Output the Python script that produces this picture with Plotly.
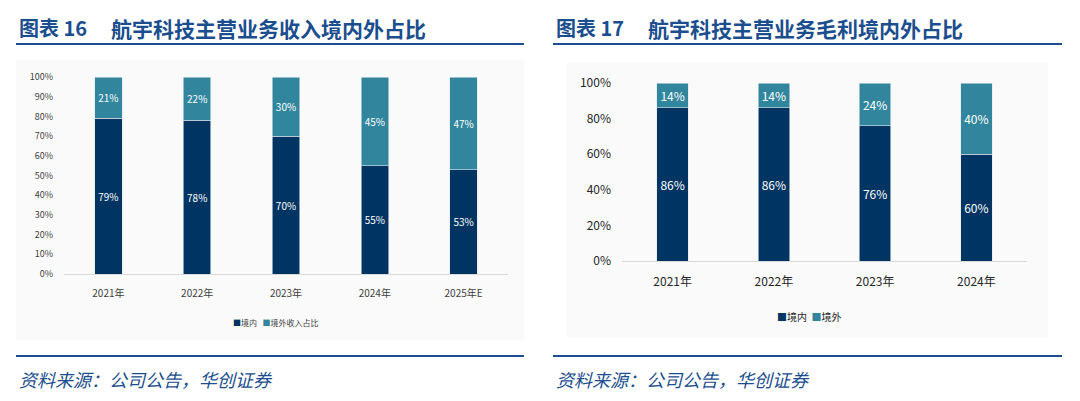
import plotly.graph_objects as go

W, H = 1080, 401

# Left chart data
years_l = ["2021年", "2022年", "2023年", "2024年", "2025年E"]
dom_rev = [79, 78, 70, 55, 53]
for_rev = [21, 22, 30, 45, 47]

# Right chart data
years_r = ["2021年", "2022年", "2023年", "2024年"]
dom_gp = [86, 86, 76, 60]
for_gp = [14, 14, 24, 40]

ticks_l = [0, 10, 20, 30, 40, 50, 60, 70, 80, 90, 100]
ticks_r = [0, 20, 40, 60, 80, 100]

NAVY = "#003462"
TEAL = "#31869D"
TITLE = "#1B4E8E"
FONT = "Noto Sans CJK SC"

def px(x):
    return x / W

def py(y):
    return 1 - y / H

fig = go.Figure()

def bar(xs, ys, name, color, size, xa, ya):
    return go.Bar(x=xs, y=ys, name=name, marker=dict(color=color, line=dict(color="#DDE6EE", width=0.6)),
                  text=[f"{v}%" for v in ys], textposition="inside", insidetextanchor="middle",
                  textfont=dict(color="white", size=size, family=FONT), xaxis=xa, yaxis=ya,
                  showlegend=False)

fig.add_trace(bar(years_l, dom_rev, "境内", NAVY, 10, "x", "y"))
fig.add_trace(bar(years_l, for_rev, "境外收入占比", TEAL, 10, "x", "y"))
fig.add_trace(bar(years_r, dom_gp, "境内", NAVY, 12, "x2", "y2"))
fig.add_trace(bar(years_r, for_gp, "境外", TEAL, 12, "x2", "y2"))

fig.update_layout(
    width=W, height=H, margin=dict(l=0, r=0, t=0, b=0, autoexpand=False),
    paper_bgcolor="white", plot_bgcolor="rgba(0,0,0,0)",
    barmode="stack", bargap=0.69,
    font=dict(family=FONT, color="#404040"),
    uniformtext=dict(mode="show", minsize=8),
    showlegend=False,
    xaxis=dict(domain=[px(64), px(508)], anchor="y", showgrid=False, showline=True, linecolor="#D9D9D9", linewidth=1,
               ticks="", tickfont=dict(size=10, color="#404040", family=FONT), automargin=False,
               ticklabelstandoff=10),
    yaxis=dict(domain=[py(274), py(77)], anchor="x", range=[0, 100], tickvals=ticks_l,
               ticktext=[f"{t}%" for t in ticks_l], showgrid=False, zeroline=False, showline=False,
               tickfont=dict(size=9, color="#404040", family=FONT), ticklabelstandoff=10, automargin=False),
    xaxis2=dict(domain=[px(622), px(1027)], anchor="y2", showgrid=False, showline=True, linecolor="#D9D9D9", linewidth=1,
                ticks="", tickfont=dict(size=12, color="#262626", family=FONT), automargin=False,
                ticklabelstandoff=10),
    yaxis2=dict(domain=[py(261), py(83)], anchor="x2", range=[0, 100], tickvals=ticks_r,
                ticktext=[f"{t}%" for t in ticks_r], showgrid=False, zeroline=False, showline=False,
                tickfont=dict(size=12, color="#262626", family=FONT), ticklabelstandoff=10, automargin=False),
)

shapes = [
    dict(type="rect", xref="paper", yref="paper", x0=px(16), x1=px(524), y0=py(340), y1=py(60),
         fillcolor="#FAFAFA", line=dict(width=0), layer="below"),
    dict(type="rect", xref="paper", yref="paper", x0=px(567), x1=px(1048), y0=py(338), y1=py(62),
         fillcolor="#FAFAFA", line=dict(width=0), layer="below"),
    dict(type="line", xref="paper", yref="paper", x0=px(16), x1=px(524), y0=py(44), y1=py(44),
         line=dict(color=TITLE, width=2)),
    dict(type="line", xref="paper", yref="paper", x0=px(553), x1=px(1062), y0=py(44), y1=py(44),
         line=dict(color=TITLE, width=2)),
    dict(type="line", xref="paper", yref="paper", x0=px(16), x1=px(524), y0=py(356), y1=py(356),
         line=dict(color=TITLE, width=2)),
    dict(type="line", xref="paper", yref="paper", x0=px(553), x1=px(1062), y0=py(356), y1=py(356),
         line=dict(color=TITLE, width=2)),
]
fig.update_layout(shapes=shapes)

for txt, x0 in [("图表 16", 17), ("图表 17", 554)]:
    fig.add_annotation(xref="paper", yref="paper", xanchor="left", yanchor="middle", showarrow=False,
                       text=f"<b>{txt}</b>", x=px(x0), y=py(28), font=dict(size=20, color=TITLE, family=FONT))
for txt, x0 in [("航宇科技主营业务收入境内外占比", 109), ("航宇科技主营业务毛利境内外占比", 646)]:
    fig.add_annotation(xref="paper", yref="paper", xanchor="left", yanchor="middle", showarrow=False,
                       text=f"<b>{txt}</b>", x=px(x0), y=py(28), font=dict(size=21, color=TITLE, family=FONT))

for x0 in [17, 554]:
    fig.add_annotation(xref="paper", yref="paper", xanchor="left", yanchor="middle", showarrow=False,
                       text="<i>资料来源：公司公告，华创证券</i>", x=px(x0), y=py(379),
                       font=dict(size=18, color=TITLE, family=FONT))

# legends (drawn as text with coloured squares)
fig.add_annotation(xref="paper", yref="paper", xanchor="center", yanchor="middle", showarrow=False,
                   x=px(275), y=py(322), font=dict(size=8, color="#404040", family=FONT),
                   text=f'<span style="color:{NAVY}">■</span>境内   <span style="color:{TEAL}">■</span>境外收入占比')
fig.add_annotation(xref="paper", yref="paper", xanchor="center", yanchor="middle", showarrow=False,
                   x=px(809), y=py(316), font=dict(size=10, color="#262626", family=FONT),
                   text=f'<span style="color:{NAVY}">■</span>境内  <span style="color:{TEAL}">■</span>境外')

fig.write_html("out.html", config={"displayModeBar": False},
               post_script="document.body.style.margin='0';")
